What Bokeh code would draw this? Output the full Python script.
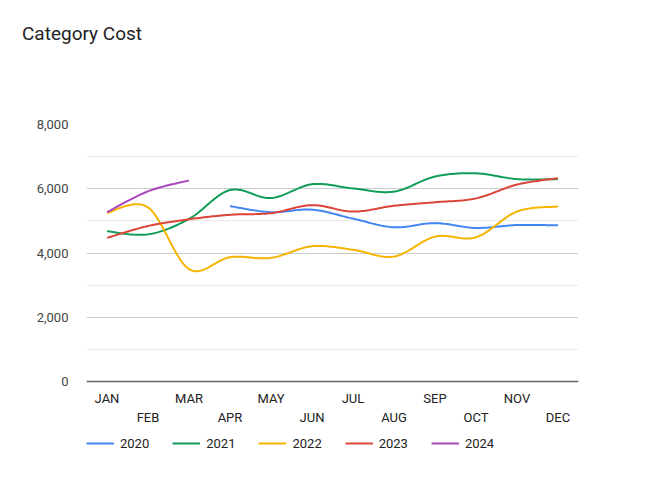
import numpy as np
from bokeh.plotting import figure
from bokeh.models import (Range1d, FixedTicker, LinearAxis, NumeralTickFormatter,
                          Legend, LegendItem, Div)
from bokeh.layouts import column
from bokeh.embed import file_html
from bokeh.resources import INLINE

months = ["JAN", "FEB", "MAR", "APR", "MAY", "JUN", "JUL", "AUG", "SEP", "OCT", "NOV", "DEC"]
years = ["2020", "2021", "2022", "2023", "2024"]
colors = ["#4285F4", "#0F9D58", "#F4B400", "#DB4437", "#AB47BC"]

# values per month (None = no data)
v2020 = [None, None, None, 5460, 5270, 5350, 5070, 4800, 4930, 4780, 4870, 4860]
v2021 = [4680, 4580, 5060, 5960, 5710, 6140, 6010, 5910, 6380, 6480, 6300, 6300]
v2022 = [5250, 5420, 3500, 3870, 3850, 4210, 4100, 3890, 4510, 4490, 5290, 5450]
v2023 = [4470, 4840, 5050, 5190, 5240, 5490, 5290, 5470, 5580, 5700, 6130, 6330]
v2024 = [5270, 5920, 6260, None, None, None, None, None, None, None, None, None]
series = [v2020, v2021, v2022, v2023, v2024]

y_major = [0, 2000, 4000, 6000, 8000]
y_minor = [1000, 3000, 5000, 7000]


def smooth(xs, ys, n=24):
    """Catmull-Rom curve through the given points (rendering only)."""
    P = np.column_stack([xs, ys]).astype(float)
    m = len(P)
    if m < 2:
        return P[:, 0], P[:, 1]
    out = []
    for i in range(m - 1):
        p0 = P[i - 1] if i > 0 else P[i]
        p1 = P[i]
        p2 = P[i + 1]
        p3 = P[i + 2] if i + 2 < m else P[i + 1]
        t1 = (p2 - p0) / 2.0
        t2 = (p3 - p1) / 2.0
        ts = np.linspace(0, 1, n, endpoint=(i == m - 2))
        for t in ts:
            h00 = 2 * t**3 - 3 * t**2 + 1
            h10 = t**3 - 2 * t**2 + t
            h01 = -2 * t**3 + 3 * t**2
            h11 = t**3 - t**2
            out.append(h00 * p1 + h10 * t1 + h01 * p2 + h11 * t2)
    out = np.array(out)
    return out[:, 0], out[:, 1]


# page geometry (pixels)
PAGE_W, PAGE_H = 662, 504
DIV_H = 48
TOP_PX, ZERO_PX = 124, 381          # page y of the 8000 line and of the baseline
FIG_H = PAGE_H - DIV_H
y_top = max(y_major)
y_lo = -y_top * (PAGE_H - ZERO_PX) / (ZERO_PX - TOP_PX)

title = Div(text="Category Cost", width=PAGE_W, height=DIV_H, margin=0,
            styles={"font-family": "Roboto", "font-size": "19px", "color": "#222222",
                    "padding-left": "22px", "padding-top": "24px",
                    "line-height": "20px", "box-sizing": "border-box"})

p = figure(width=PAGE_W, height=FIG_H, output_backend="svg", toolbar_location=None,
           x_range=Range1d(-0.5, 11.5), y_range=Range1d(y_lo, y_top),
           min_border_left=86, min_border_right=84, min_border_top=TOP_PX - DIV_H,
           min_border_bottom=0, x_axis_location=None, y_axis_location=None)
p.outline_line_color = None
p.background_fill_color = "white"
p.border_fill_color = "white"

# y axis
yaxis = LinearAxis(ticker=FixedTicker(ticks=y_major, minor_ticks=y_minor),
                   formatter=NumeralTickFormatter(format="0,0"))
yaxis.axis_line_color = None
yaxis.major_tick_line_color = None
yaxis.minor_tick_line_color = None
yaxis.major_label_text_font = "Roboto"
yaxis.major_label_text_font_size = "13px"
yaxis.major_label_text_color = "#444444"
yaxis.major_label_standoff = 12
p.add_layout(yaxis, "left")

p.ygrid.ticker = yaxis.ticker
p.ygrid.grid_line_color = "#cccccc"
p.ygrid.minor_grid_line_color = "#ebebeb"
p.xgrid.grid_line_color = None

# x axes (two staggered rows), drawn at the zero baseline
xa1 = LinearAxis(ticker=FixedTicker(ticks=list(range(0, 12, 2))),
                 major_label_overrides={i: months[i] for i in range(0, 12, 2)},
                 fixed_location=0)
xa2 = LinearAxis(ticker=FixedTicker(ticks=list(range(1, 12, 2))),
                 major_label_overrides={i: months[i] for i in range(1, 12, 2)},
                 fixed_location=0)
for ax in (xa1, xa2):
    ax.major_tick_line_color = None
    ax.minor_tick_line_color = None
    ax.major_tick_out = 0
    ax.major_tick_in = 0
    ax.major_label_text_font = "Roboto"
    ax.major_label_text_font_size = "13px"
    ax.major_label_text_color = "#222222"
xa1.axis_line_color = "#666666"
xa1.axis_line_width = 1.6
xa1.major_label_standoff = 9
xa2.axis_line_color = None
xa2.major_label_standoff = 28
p.add_layout(xa1, "below")
p.add_layout(xa2, "below")

items = []
for name, vals, col in zip(years, series, colors):
    xs = [i for i, v in enumerate(vals) if v is not None]
    ys = [v for v in vals if v is not None]
    sx, sy = smooth(xs, ys)
    r = p.line(sx, sy, line_color=col, line_width=2)
    items.append(LegendItem(label=name, renderers=[r]))

legend = Legend(items=items, orientation="horizontal", location=(0, PAGE_H - 443 - 10))
legend.border_line_color = None
legend.background_fill_alpha = 0
legend.padding = 0
legend.margin = 0
legend.glyph_width = 28
legend.glyph_height = 20
legend.label_height = 20
legend.label_standoff = 6
legend.spacing = 23
legend.label_text_font = "Roboto"
legend.label_text_font_size = "13px"
legend.label_text_color = "#222222"
p.add_layout(legend, "center")

layout = column(title, p, spacing=0)
open("out.html", "w").write(file_html(layout, INLINE))
